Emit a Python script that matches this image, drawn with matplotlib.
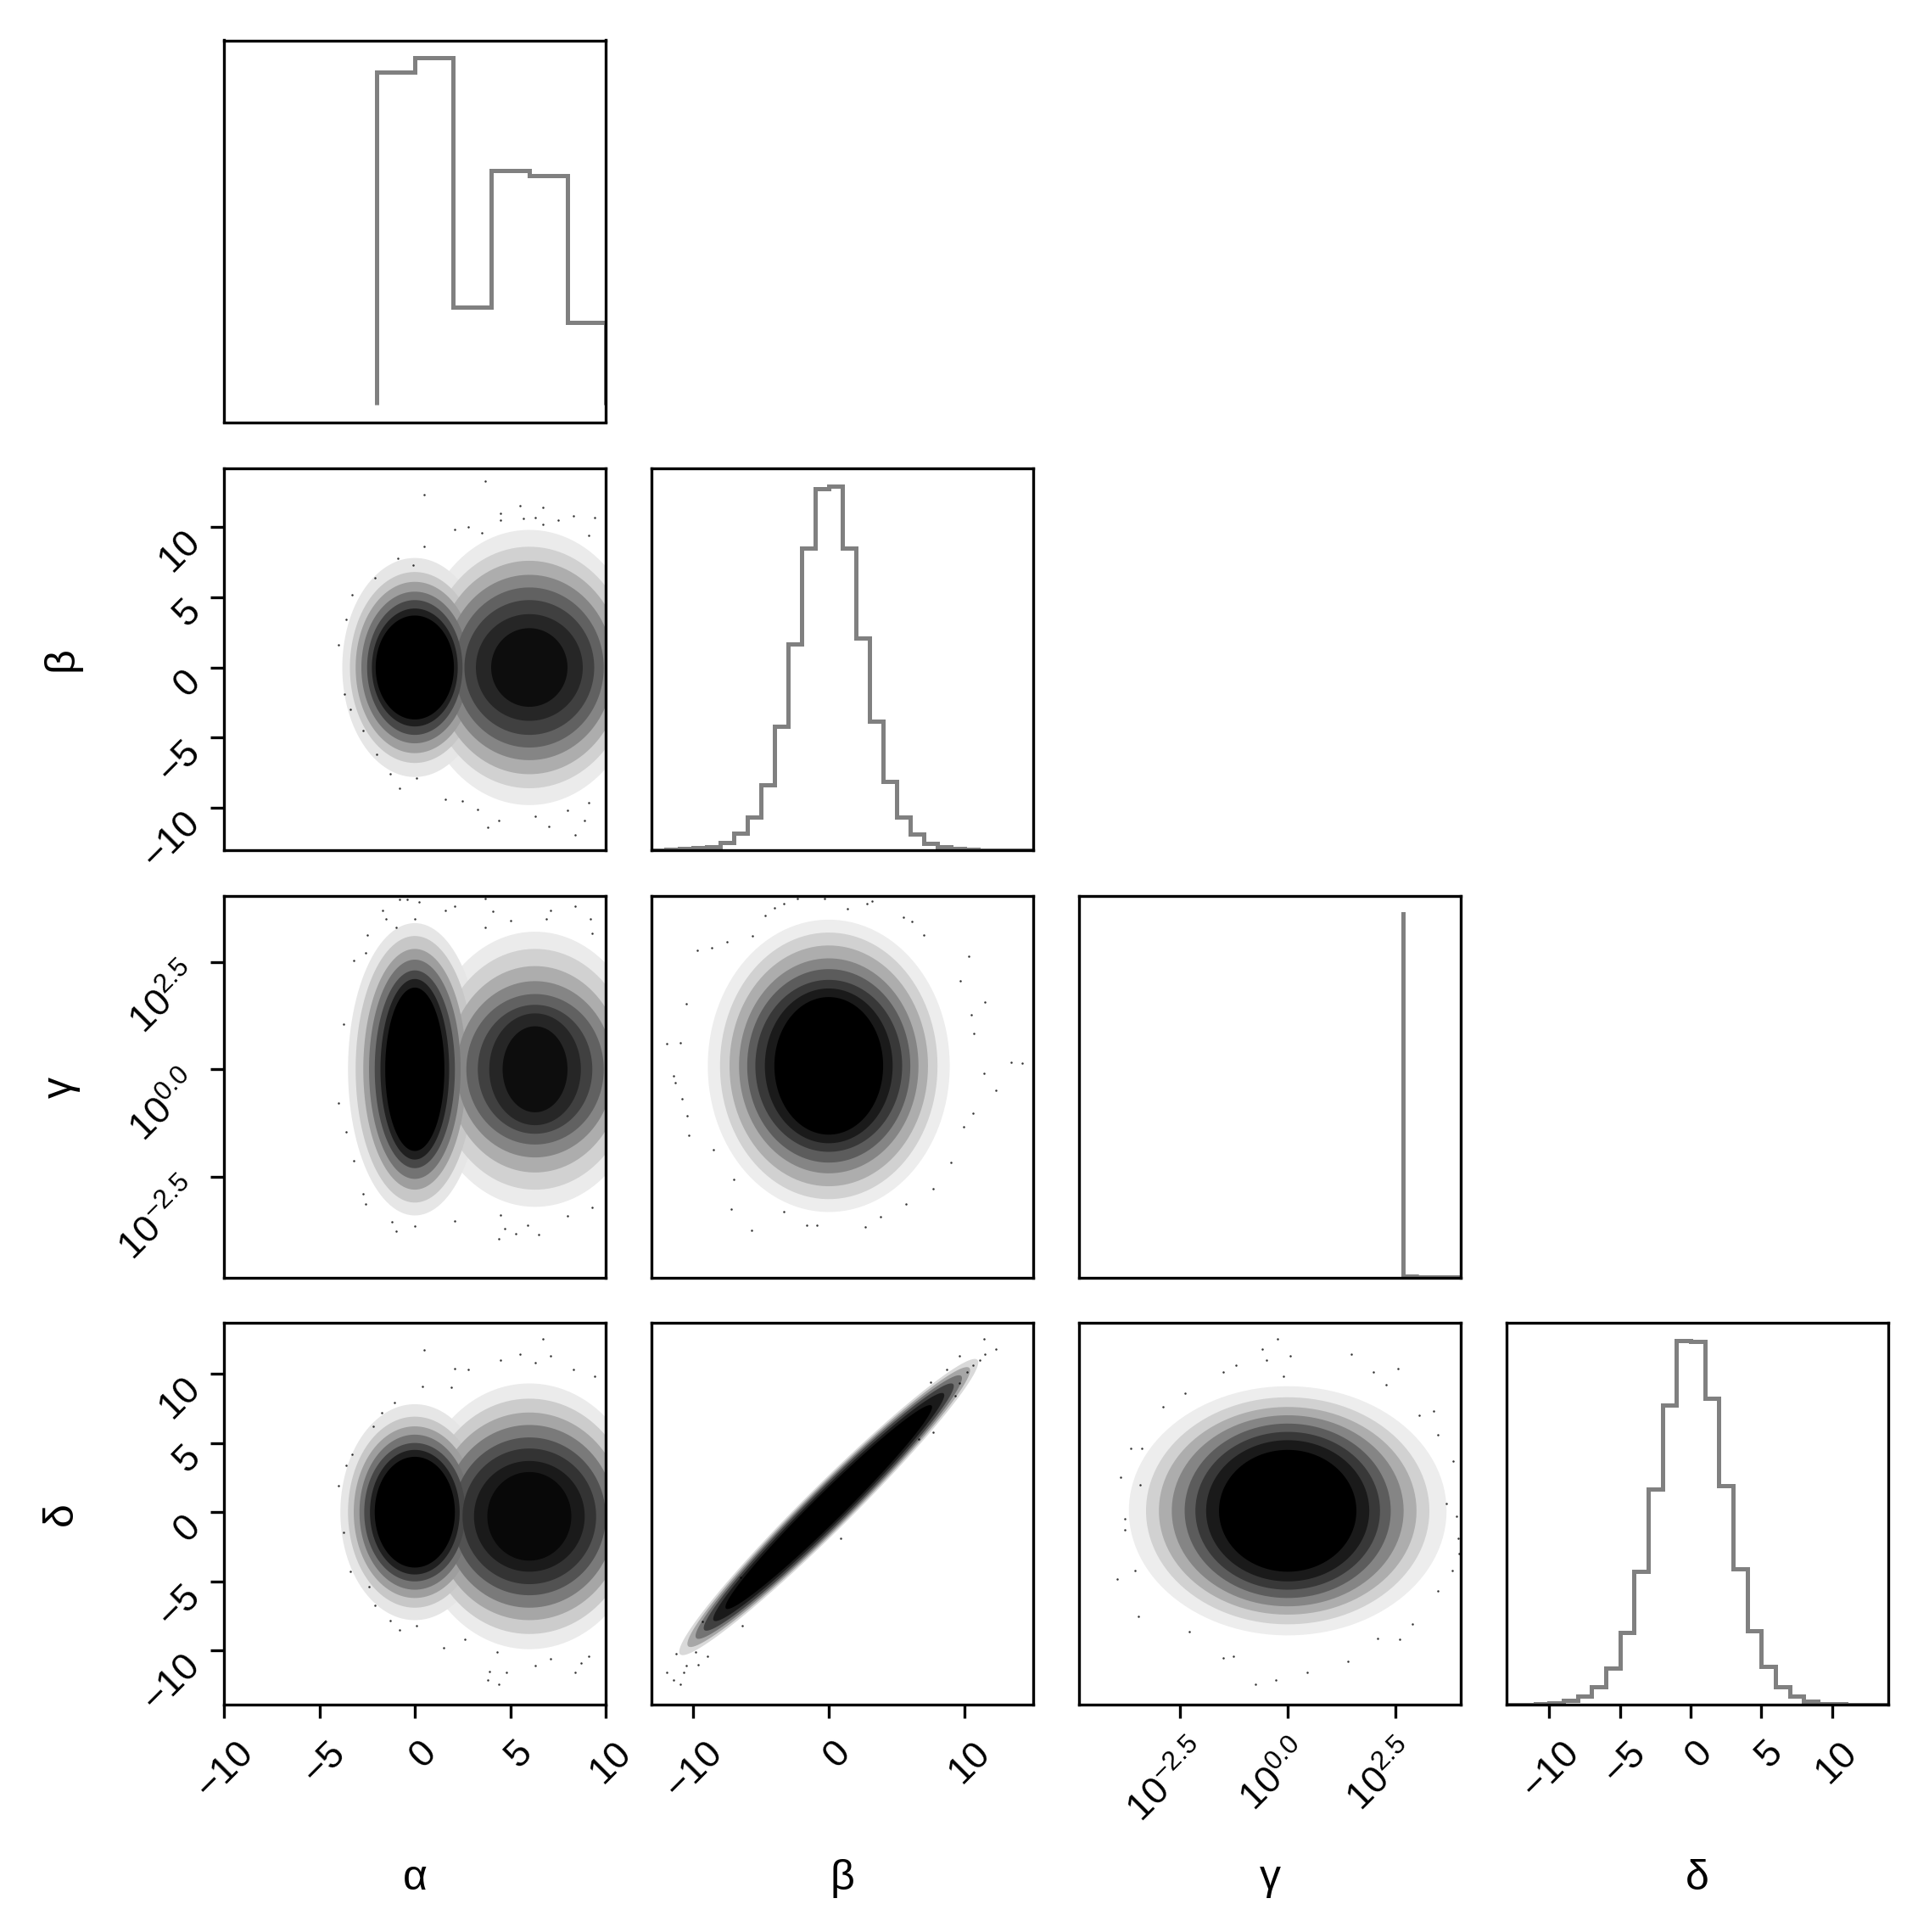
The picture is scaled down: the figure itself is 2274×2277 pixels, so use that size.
import numpy as np
import matplotlib
matplotlib.use('Agg')
import matplotlib.pyplot as plt
from matplotlib.ticker import NullLocator
from matplotlib.transforms import ScaledTranslation

plt.rcParams['font.family'] = ['Liberation Sans', 'DejaVu Sans']
plt.rcParams['mathtext.default'] = 'regular'
plt.rcParams['mathtext.fontset'] = 'custom'
plt.rcParams['mathtext.rm'] = 'Liberation Sans'
plt.rcParams['axes.linewidth'] = 0.8

names = ['α', 'β', 'γ', 'δ']

# histogram heights
alpha_edges = [-2, 0, 2, 4, 6, 8, 10]
alpha_hist = [959, 1000, 281, 674, 661, 238]
beta_edges = list(range(-13, 16))
beta_hist = [1, 4, 6, 8, 13, 27, 59, 118, 232, 438, 730, 1070, 1278, 1287,
             1070, 750, 455, 242, 118, 57, 25, 12, 6, 3, 1, 1, 0, 0]
gamma_edges = [480, 1050, 11000]
gamma_hist = [4.7, 2]
gamma_peak = 1000
delta_edges = list(range(-13, 15))
delta_hist = [0, 1, 2, 4, 10, 22, 46, 93, 184, 338, 547, 762, 924,
              922, 778, 556, 345, 187, 98, 46, 22, 8, 3, 2, 1, 0, 0]

# density regions of the clouds: centre, half widths, grey level
ab_cx = [0] * 7 + [6] * 8
ab_cy = [0] * 15
ab_hx = [3.8, 3.4, 3.1, 2.8, 2.5, 2.25, 2.05, 5.9, 5.4, 4.9, 4.4, 3.9, 3.4, 2.8, 2.0]
ab_hy = [7.8, 6.8, 6.1, 5.4, 4.8, 4.2, 3.7, 9.8, 8.6, 7.6, 6.6, 5.7, 4.8, 3.8, 2.8]
ab_grey = [0.9, 0.78, 0.62, 0.45, 0.28, 0.12, 0.0, 0.92, 0.82, 0.68, 0.52, 0.38, 0.25, 0.15, 0.05]

ag_cx = [0] * 7 + [6.3] * 8
ag_cy = [0] * 15
ag_hx = [3.5, 3.1, 2.7, 2.4, 2.1, 1.8, 1.55, 5.8, 5.2, 4.6, 4.1, 3.6, 3.0, 2.4, 1.7]
ag_hy = [3.4, 3.1, 2.8, 2.55, 2.3, 2.1, 1.9, 3.2, 2.8, 2.4, 2.05, 1.75, 1.5, 1.3, 1.0]
ag_grey = [0.9, 0.78, 0.62, 0.45, 0.28, 0.12, 0.0, 0.92, 0.82, 0.68, 0.52, 0.38, 0.25, 0.15, 0.05]

ad_cx = [0] * 7 + [6] * 8
ad_cy = [0] * 7 + [-0.3] * 8
ad_hx = [3.9, 3.5, 3.2, 2.9, 2.65, 2.35, 2.1, 6.0, 5.5, 5.0, 4.5, 4.0, 3.5, 2.9, 2.2]
ad_hy = [7.8, 6.9, 6.2, 5.6, 5.0, 4.5, 4.0, 9.6, 8.5, 7.5, 6.6, 5.7, 4.9, 4.0, 3.2]
ad_grey = [0.9, 0.78, 0.62, 0.45, 0.28, 0.12, 0.0, 0.92, 0.8, 0.65, 0.48, 0.32, 0.2, 0.1, 0.03]

bg_cx = [0] * 8
bg_cy = [0.08] * 8
bg_hx = [8.9, 8.0, 7.3, 6.6, 6.0, 5.4, 4.7, 4.0]
bg_hy = [3.4, 3.1, 2.8, 2.5, 2.25, 2.0, 1.8, 1.6]
bg_grey = [0.93, 0.82, 0.68, 0.52, 0.36, 0.22, 0.1, 0.0]

bd_cx = [0] * 6
bd_cy = [0.37] * 6
bd_hx = [11.0, 10.4, 9.8, 9.2, 8.5, 7.6]
bd_hy = [2.3, 2.15, 2.0, 1.85, 1.65, 1.45]
bd_slope = 0.95
bd_grey = [0.85, 0.65, 0.45, 0.25, 0.1, 0.0]

gd_cx = [0] * 8
gd_cy = [0.1] * 8
gd_hx = [3.7, 3.3, 3.0, 2.7, 2.4, 2.15, 1.9, 1.6]
gd_hy = [9.0, 8.2, 7.5, 6.9, 6.3, 5.7, 5.1, 4.4]
gd_grey = [0.93, 0.82, 0.68, 0.52, 0.36, 0.22, 0.1, 0.0]

# stray points outside the dense parts
ab_x = [3.7, 0.5, 5.5, 6.7, 4.5, 4.5, 5.7, 6.3, 8.3, 9.4, 7.5, 2.8, 6.7, 2.1, 0.5, 3.5, 9.1,
        3.8, 8.4, 7.0, 8.9, 4.4, 6.3, 3.3, 8.0, 1.6, 9.1, 2.5, -0.8, 0.1, -1.3, -2.0,
        -4.0, -3.6, -3.3, -3.7, -3.4, -2.7, -0.9, -2.1, -0.1]
ab_y = [13.3, 12.3, 11.5, 11.4, 11.0, 10.5, 10.6, 10.7, 10.8, 10.7, 10.5, 10.0, 10.2, 9.8, 8.6, 9.6, 9.4,
        -11.4, -11.9, -11.3, -10.9, -10.9, -10.6, -10.1, -10.2, -9.4, -9.6, -9.5, -8.6, -7.9, -7.6, -6.2,
        1.6, 3.4, 5.2, -1.9, -3.0, -4.5, 7.8, 6.4, 7.3]

ag_x = [-0.8, -0.4, 0.2, 1.6, 2.1, 3.7, 8.4, 4.1, -1.7, 7.1, 9.2, 5.0, 6.9, -1.5, -1.0, 0, 9.3, -2.5, 3.7,
        -3.2, -2.6, -3.75, -4.0, -3.6, -3.2, -2.7, -2.6, -1.2, -1.0, 0, 2.1, 4.4, 4.7, 5.3, 6.5, 5.9, 8, 9.3, 4.5]
ag_y = [3.95, 3.95, 3.9, 3.7, 3.8, 3.97, 3.8, 3.67, 3.7, 3.7, 3.5, 3.45, 3.5, 3.5, 3.3, 3.5, 3.17, 3.13, 3.3,
        2.54, 2.7, 1.06, -0.78, -1.46, -2.12, -2.9, -3.14, -3.55, -3.77, -3.65, -3.52, -3.95, -3.7, -3.82,
        -3.84, -3.62, -3.41, -3.22, -3.39]

ad_x = [0.5, 6.7, 5.5, 7.1, 4.5, 6.3, 2.1, 8.3, 2.8, 0.4, 9.4, 1.9, -1.05, -1.75, -2.2, -3.3, -3.6, -4,
        -3.75, -3.4, -2.4, -2.1, -1.3, -0.8, 0.1, 1.5, 3.8, 4.4, 4.8, 3.9, 8.4, 8.7, 9.1, 6.3, 7.1, 2.6, 4.3]
ad_y = [11.7, 12.5, 11.4, 11.3, 11.0, 10.8, 10.4, 10.3, 10.3, 9.1, 9.8, 9.0, 7.9, 7.2, 6.2, 4.2, 3.4, 1.9,
        -1.45, -4.3, -5.4, -6.7, -7.85, -8.5, -8.2, -9.8, -12.1, -12.4, -11.6, -11.5, -11.6, -10.9, -10.4,
        -11.1, -10.6, -9.2, -10.1]

bg_x = [-11.9, -11.4, -10.9, -10.5, -9.7, -8.6, -7.5, -5.6, -4.7, -4.0, -3.3, -2.3, -0.3, 3.2, 2.8, 1.4, 5.5, 6.1,
        7.0, 10.3, 9.7, 11.5, 10.5, 10.7, 13.4, 14.2, 12.3, 11.4, 10.6, 9.9, 9.0, 7.7, 5.7, 3.8, 2.7, -0.85, -1.6,
        -3.3, -5.7, -7.2, -7.0, -8.5, -10.3, -10.4, -10.8, -11.3]
bg_y = [0.59, -0.15, 0.62, 1.52, 2.77, 2.82, 2.96, 3.11, 3.57, 3.75, 3.86, 3.98, 3.97, 3.92, 3.86, 3.74, 3.54, 3.43,
        3.13, 2.63, 2.05, 1.57, 1.26, 0.83, 0.17, 0.15, -0.48, -0.1, -1.03, -1.33, -2.17, -2.77, -3.14, -3.43, -3.67,
        -3.63, -3.63, -3.32, -3.75, -3.25, -2.56, -1.88, -1.54, -1.08, -0.68, -0.32]

bd_x = [11.4, 12.3, 11.5, 9.6, 11.1, 10.6, 8.7, 10.2, 9.6, 7.5, 9.3, 7.7, 6.6,
        -11.9, -11.4, -10.9, -11.2, -10.7, -10.5, -9.8, -9.6, -9.3, -8.95, 0.9, -6.35, -6.46]
bd_y = [12.5, 11.75, 11.4, 11.3, 11.0, 10.6, 10.3, 10.1, 9.3, 9.4, 8.4, 5.8, 5.3,
        -11.6, -12.1, -12.4, -10.2, -11.6, -11.1, -10.1, -11.0, -7.9, -10.4, -1.9, -8.2, -4.7]

gd_x = [-0.24, -0.6, 0.05, 1.48, 2.56, -0.5, -0.09, -1.5, 2, -1.2, 2.3, -2.4, -2.9, 3.4, 3.07, -3.65, -3.4, 3.5,
        3.86, -3.9, -3.43, 3.7, 3.94, -3.8, -3.8, 3.97, 4, -3.97, -3.56, 3.84, -3.47, 3.5, 2.9, -2.3, 2.6, 2.1,
        -1.5, -1.26, -0.75, -0.27, 0.46, 1.4]
gd_y = [12.5, 11.75, 11.3, 11.4, 10.4, 11, 9.8, 10.1, 10.1, 10.6, 9.2, 8.6, 7.6, 7.3, 7, 4.6, 4.6, 5.6,
        3.7, 2.5, 2.0, 0.6, -0.3, -0.5, -1.3, -1.9, -3, -4.8, -4.2, -4.2, -7.5, -5.7, -8.1, -8.6, -9.2, -9.1,
        -10.5, -10.4, -12.4, -12.1, -11.6, -10.8]

# tick values and labels per parameter
lin5 = [-10, -5, 0, 5, 10]
lin3 = [-10, 0, 10]
lin5_labels = ['\u221210', '\u22125', '0', '5', '10']
lin3_labels = ['\u221210', '0', '10']
log_exp = [-2.5, 0.0, 2.5]
log_labels = ['$\\mathdefault{10^{-2.5}}$', '$\\mathdefault{10^{0.0}}$', '$\\mathdefault{10^{2.5}}$']

x_limits = [(-10, 10), (-13.04, 15.04), (10 ** -4.86, 10 ** 4.03), (-13.02, 13.99)]
y_limits = [None, (-13.01, 14.18), (10 ** -4.85, 10 ** 4.03), (-13.9, 13.68)]
ticks = [lin5, lin3, [10 ** e for e in log_exp], lin5]
y_ticks = [None, lin5, [10 ** e for e in log_exp], lin5]
tick_labels = [lin5_labels, lin3_labels, log_labels, lin5_labels]
y_tick_labels = [None, lin5_labels, log_labels, lin5_labels]

# pixel layout of the grid
W, H = 2274, 2277
col_left = [264, 768, 1272, 1776]
row_top = [47.5, 552, 1056, 1559]
panel = 450

fig = plt.figure(figsize=(W / 300, H / 300), dpi=300)


def px_shift(dx, dy):
    return ScaledTranslation(dx / 300, dy / 300, fig.dpi_scale_trans)


def make_axes(r, c):
    ax = fig.add_axes([col_left[c] / W, 1 - (row_top[r] + panel) / H, panel / W, panel / H])
    ax.set_xscale('log' if c == 2 else 'linear')
    if r > 0 and r != c:
        ax.set_yscale('log' if r == 2 else 'linear')
    ax.set_xlim(x_limits[c])
    ax.xaxis.set_minor_locator(NullLocator())
    ax.yaxis.set_minor_locator(NullLocator())
    ax.tick_params(length=3.8, width=0.8, labelsize=10.8)
    if r == 3:
        ax.set_xticks(ticks[c], tick_labels[c])
        ax.tick_params(axis='x', pad=4.8)
        ax.xaxis.set_minor_locator(NullLocator())
        for lab in ax.get_xticklabels():
            lab.set_rotation(45)
            lab.set_ha('center')
            n = len(lab.get_text())
            shift = -14 if n > 4 else 14 - 4 * n
            lab.set_transform(lab.get_transform() + px_shift(shift, 0))
        ax.set_xlabel(names[c], fontsize=12)
        ax.xaxis.set_label_coords(0.5, -0.405)
    else:
        ax.set_xticks([])
    if c == 0 and r > 0:
        ax.set_yticks(y_ticks[r], y_tick_labels[r])
        ax.tick_params(axis='y', pad=1)
        ax.yaxis.set_minor_locator(NullLocator())
        for lab in ax.get_yticklabels():
            lab.set_rotation(45)
            lab.set_va('top')
            lab.set_transform(lab.get_transform() + px_shift(0, 4))
        ax.set_ylabel(names[r], fontsize=12)
        ax.yaxis.set_label_coords(-0.375, 0.5)
    else:
        ax.set_yticks([])
    return ax


def cloud(ax, cx, cy, hx, hy, grey, px, py, logx=False, logy=False, slope=0.0):
    t = np.linspace(0, 2 * np.pi, 120)
    for i in np.argsort(grey)[::-1]:
        x = cx[i] + hx[i] * np.cos(t)
        y = cy[i] + slope * hx[i] * np.cos(t) + hy[i] * np.sin(t)
        ax.fill(10 ** x if logx else x, 10 ** y if logy else y, color=str(grey[i]), lw=0)
    px = np.array(px, dtype=float)
    py = np.array(py, dtype=float)
    ax.plot(10 ** px if logx else px, 10 ** py if logy else py, ls='none', marker='o',
            ms=0.6, mew=0, color='k', alpha=0.8)


# diagonal
ax = make_axes(0, 0)
ax.stairs(alpha_hist, alpha_edges, color='#808080', lw=1.2)
ax.set_ylim(-0.05 * max(alpha_hist), 1.05 * max(alpha_hist))

ax = make_axes(1, 1)
ax.stairs(beta_hist, beta_edges, color='#808080', lw=1.2)
ax.set_ylim(0, 1.05 * max(beta_hist))

ax = make_axes(2, 2)
g_x = [gamma_edges[0], gamma_edges[0], gamma_edges[1], gamma_edges[1], gamma_edges[2]]
g_y = [gamma_peak, gamma_hist[0], gamma_hist[0], gamma_hist[1], gamma_hist[1]]
ax.plot(g_x, g_y, color='#808080', lw=1.2)
ax.set_ylim(0, 1.05 * gamma_peak)

ax = make_axes(3, 3)
ax.stairs(delta_hist, delta_edges, color='#808080', lw=1.2)
ax.set_ylim(0, 1.05 * max(delta_hist))

# off diagonal
ax = make_axes(1, 0)
cloud(ax, ab_cx, ab_cy, ab_hx, ab_hy, ab_grey, ab_x, ab_y)
ax.set_ylim(y_limits[1])

ax = make_axes(2, 0)
cloud(ax, ag_cx, ag_cy, ag_hx, ag_hy, ag_grey, ag_x, ag_y, logy=True)
ax.set_ylim(y_limits[2])

ax = make_axes(3, 0)
cloud(ax, ad_cx, ad_cy, ad_hx, ad_hy, ad_grey, ad_x, ad_y)
ax.set_ylim(y_limits[3])

ax = make_axes(2, 1)
cloud(ax, bg_cx, bg_cy, bg_hx, bg_hy, bg_grey, bg_x, bg_y, logy=True)
ax.set_ylim(y_limits[2])

ax = make_axes(3, 1)
cloud(ax, bd_cx, bd_cy, bd_hx, bd_hy, bd_grey, bd_x, bd_y, slope=bd_slope)
ax.set_ylim(y_limits[3])

ax = make_axes(3, 2)
cloud(ax, gd_cx, gd_cy, gd_hx, gd_hy, gd_grey, gd_x, gd_y, logx=True)
ax.set_ylim(y_limits[3])

fig.savefig('out.png', dpi=300, facecolor='white')
